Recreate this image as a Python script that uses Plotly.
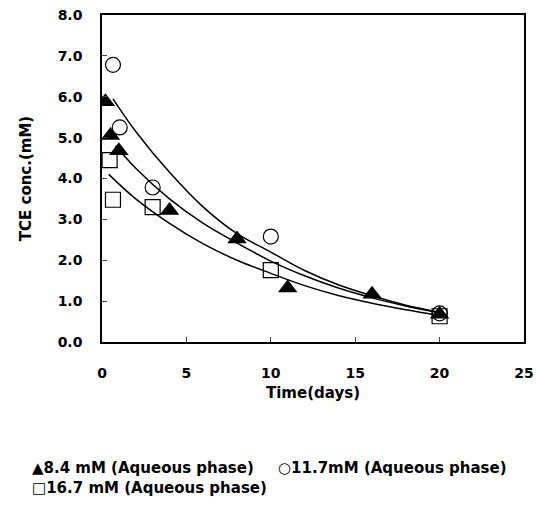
import plotly.graph_objects as go

# Measured data (time in days, TCE conc. in mM)
tri_t = [0.2, 0.5, 1.0, 4.0, 8.0, 11.0, 16.0, 20.0]
tri_c = [5.88, 5.05, 4.68, 3.22, 2.52, 1.32, 1.17, 0.68]
cir_t = [0.65, 1.05, 3.0, 10.0, 20.0]
cir_c = [6.78, 5.25, 3.78, 2.58, 0.70]
sq_t = [0.45, 0.65, 3.0, 10.0, 20.0]
sq_c = [4.45, 3.48, 3.30, 1.76, 0.63]

# Fitted curves
fit_top_t = [0.65, 2, 4, 6, 8, 10, 12, 14, 16, 18, 20]
fit_top_c = [5.95, 5.15, 4.15, 3.30, 2.65, 2.20, 1.75, 1.40, 1.13, 0.90, 0.73]
fit_mid_t = [0.8, 2, 4, 6, 8, 10, 12, 14, 16, 18, 20]
fit_mid_c = [4.80, 4.25, 3.50, 2.90, 2.42, 1.98, 1.62, 1.32, 1.08, 0.88, 0.71]
fit_bot_t = [0.4, 2, 4, 6, 8, 10, 12, 14, 16, 18, 20]
fit_bot_c = [4.10, 3.50, 2.90, 2.40, 2.00, 1.68, 1.38, 1.14, 0.95, 0.79, 0.65]

legend_names = ["8.4 mM (Aqueous phase)", "11.7mM (Aqueous phase)", "16.7 mM (Aqueous phase)"]
y_ticks = [0, 1, 2, 3, 4, 5, 6, 7, 8]
y_tick_text = ["0.0", "1.0", "2.0", "3.0", "4.0", "5.0", "6.0", "7.0", "8.0"]
x_ticks = [0, 5, 10, 15, 20, 25]

FONT = "DejaVu Sans, Liberation Sans, Arial, sans-serif"

fig = go.Figure()
for tt, cc in [(fit_top_t, fit_top_c), (fit_mid_t, fit_mid_c), (fit_bot_t, fit_bot_c)]:
    fig.add_trace(go.Scatter(x=tt, y=cc, mode="lines", line=dict(color="black", width=1.5, shape="spline"),
                             showlegend=False, hoverinfo="skip"))

fig.add_trace(go.Scatter(x=sq_t, y=sq_c, mode="markers", name=legend_names[2],
                         marker=dict(symbol="square-open", size=15, color="black", line=dict(width=1.2))))
fig.add_trace(go.Scatter(x=cir_t, y=cir_c, mode="markers", name=legend_names[1],
                         marker=dict(symbol="circle-open", size=15, color="black", line=dict(width=1.2))))
fig.add_trace(go.Scatter(x=tri_t, y=tri_c, mode="markers", name=legend_names[0],
                         marker=dict(symbol="triangle-up", size=17, color="black")))

fig.update_layout(
    width=537, height=506,
    margin=dict(l=102, r=13, t=15, b=164, autoexpand=False),
    paper_bgcolor="white", plot_bgcolor="white",
    showlegend=False,
    font=dict(family=FONT, color="black", size=13),
    xaxis=dict(range=[0, 25], tickvals=x_ticks, ticks="inside", ticklen=5, tickwidth=1,
               showline=True, linecolor="black", linewidth=1.5, mirror=True, showgrid=False, zeroline=False,
               automargin=False, ticklabeloverflow="allow",
               tickfont=dict(family=FONT, size=14, weight="bold"), ticklabelstandoff=17,
               title=dict(text="<b>Time(days)</b>", font=dict(family=FONT, size=15), standoff=8)),
    yaxis=dict(range=[0, 8], tickvals=y_ticks, ticktext=y_tick_text, ticks="inside", ticklen=5, tickwidth=1,
               showline=True, linecolor="black", linewidth=1.5, mirror=True, showgrid=False, zeroline=False,
               automargin=False, ticklabeloverflow="allow",
               tickfont=dict(family=FONT, size=14, weight="bold"), ticklabelstandoff=15,
               title=dict(text="<b>TCE conc.(mM)</b>", font=dict(family=FONT, size=15), standoff=22)),
)

# Legend as text annotations below the plot
leg = [
    ("\u25B2", legend_names[0], 30, 468),
    ("\u25CB", legend_names[1], 276, 468),
    ("\u25A1", legend_names[2], 30, 488),
]
for sym, name, px, py in leg:
    fig.add_annotation(xref="paper", yref="paper",
                       x=(px - 102) / (537 - 102 - 13), y=(506 - 164 - py) / (506 - 164 - 15),
                       text="<b>" + sym + name + "</b>", showarrow=False, xanchor="left", yanchor="middle",
                       font=dict(family=FONT, size=15, color="black"))

fig.write_html("out.html", config={"displayModeBar": False},
               post_script="document.body.style.margin='0';document.body.style.overflow='hidden';")
